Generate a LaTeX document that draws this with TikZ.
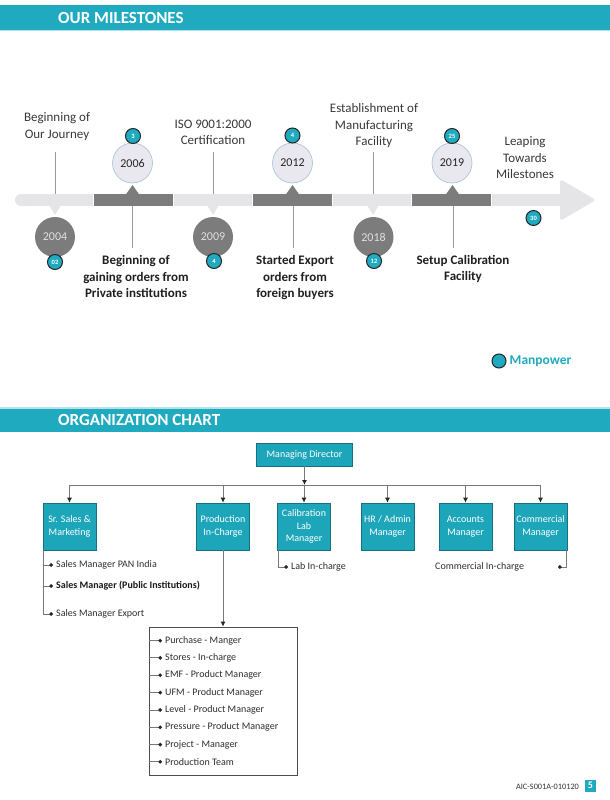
\documentclass[tikz,border=0pt]{standalone}
\usepackage{fontspec}
\setmainfont{Carlito}
\usetikzlibrary{arrows.meta, positioning}

\definecolor{aicteal}{RGB}{31,170,191}
\definecolor{boxteal}{RGB}{29,166,186}
\definecolor{boxrim}{RGB}{22,112,128}
\definecolor{darkgrey}{RGB}{124,124,124}
\definecolor{bandlight}{RGB}{229,229,231}
\definecolor{circlight}{RGB}{232,232,238}
\definecolor{circrim}{RGB}{165,192,215}
\definecolor{linegrey}{RGB}{120,120,120}

\tikzset{
  head/.style={anchor=west, inner sep=0pt, text=white, font=\fontsize{17}{17}\selectfont\bfseries},
  yeardark/.style={circle, fill=darkgrey, minimum size=40pt, inner sep=0pt, text=white!88!black, font=\fontsize{12}{12}\selectfont},
  yearlight/.style={circle, fill=circlight, draw=circrim, line width=0.6pt, minimum size=40pt, inner sep=0pt, text=black!85, font=\fontsize{12}{12}\selectfont},
  mp/.style={circle, fill=aicteal, draw=black!85, line width=1pt, minimum size=15pt, inner sep=0pt, text=white, font=\fontsize{6.5}{6.5}\selectfont\bfseries},
  ms/.style={align=center, inner sep=0pt, text=black!78, font=\fontsize{13}{16.5}\selectfont},
  msbold/.style={align=center, inner sep=0pt, text=black!88, font=\fontsize{13}{16.5}\selectfont\bfseries},
  tick/.style={draw=black!40, line width=0.8pt},
  obox/.style={rectangle, draw=boxrim, fill=boxteal, line width=0.6pt, minimum width=53pt, minimum height=47pt, inner sep=1pt, align=center, text=white, font=\fontsize{10}{12.3}\selectfont},
  item/.style={anchor=west, inner sep=0pt, text=black!82, font=\fontsize{10}{10}\selectfont},
  link/.style={draw=linegrey, line width=0.9pt},
  tip/.style={-{Latex[length=5pt, width=5pt, black!85]}},
  dot/.style={-{Circle[length=3.6pt, black!85]}},
}

\begin{document}
\begin{tikzpicture}[x=1pt, y=-1pt]
\useasboundingbox (0,0) rectangle (610,800);

% milestones header
\fill[aicteal] (0,5) rectangle (610,30);
\fill[aicteal!35] (0,30) rectangle (610,31.5);
\node[head] (head1) at (58,17.5) {OUR MILESTONES};

% the band
\fill[bandlight, rounded corners=6pt] (15,194) rectangle (40,206);
\fill[bandlight] (30,194) rectangle (92.5,206);
\fill[darkgrey] (94,194) rectangle (172.5,206);
\fill[bandlight] (174,194) rectangle (251.5,206);
\fill[darkgrey] (253,194) rectangle (331.5,206);
\fill[bandlight] (333,194) rectangle (410.5,206);
\fill[darkgrey] (412,194) rectangle (490.5,206);
\fill[bandlight] (492,194) rectangle (562,206);
\fill[bandlight, rounded corners=3pt] (560,179) -- (596,200) -- (560,221) -- cycle;

% notches
\fill[bandlight] (49,205) -- (61,205) -- (55,215) -- cycle;
\fill[bandlight] (207,205) -- (219,205) -- (213,215) -- cycle;
\fill[bandlight] (367,205) -- (379,205) -- (373,215) -- cycle;
\fill[darkgrey] (125.5,195) -- (139.5,195) -- (132.5,185) -- cycle;
\fill[darkgrey] (285.5,195) -- (299.5,195) -- (292.5,185) -- cycle;
\fill[darkgrey] (445.5,195) -- (459.5,195) -- (452.5,185) -- cycle;

% years
\node[yeardark] (y04) at (55,237) {2004};
\node[yearlight] (y06) at (132.5,163) {2006};
\node[yeardark] (y09) at (213,237) {2009};
\node[yearlight] (y12) at (292.5,163) {2012};
\node[yeardark] (y18) at (373.5,237) {2018};
\node[yearlight] (y19) at (452,163) {2019};

% manpower
\node[mp] (m04) at (55,262) {02};
\node[mp] (m06) at (133,136) {3};
\node[mp] (m09) at (214,261) {4};
\node[mp] (m12) at (292.5,135.5) {4};
\node[mp] (m18) at (374,261) {12};
\node[mp] (m19) at (452,136) {25};
\node[mp] (m30) at (533.5,218) {30};

% labels
\node[ms] (l04) at (57,126.5) {Beginning of\\Our Journey};
\node[ms] (l09) at (213,132.5) {ISO 9001:2000\\Certification};
\node[ms] (l18) at (374,126) {Establishment of\\Manufacturing\\Facility};
\node[ms] (l30) at (525,158) {Leaping\\Towards\\Milestones};
\node[msbold] (l06) at (136,276.5) {Beginning of\\gaining orders from\\Private institutions};
\node[msbold] (l12) at (295,278) {Started Export\\orders from\\foreign buyers};
\node[msbold] (l19) at (463,269) {Setup Calibration\\Facility};

\coordinate (a04) at (55,152);   \coordinate (b04) at (55,194);
\coordinate (a09) at (213,152);  \coordinate (b09) at (213,194);
\coordinate (a18) at (373,152);  \coordinate (b18) at (373,194);
\coordinate (a06) at (132.5,206); \coordinate (b06) at (132.5,248);
\coordinate (a12) at (293,206);  \coordinate (b12) at (293,248);
\coordinate (a19) at (453,206);  \coordinate (b19) at (453,248);
\draw[tick] (a04) -- (b04)
    (a09) -- (b09)
    (a18) -- (b18)
    (a06) -- (b06)
    (a12) -- (b12)
    (a19) -- (b19);

% key
\node[mp, minimum size=14pt] (mpkey) at (499,361) {};
\node[right=3pt of mpkey, inner sep=0pt, text=aicteal, font=\fontsize{13.5}{13.5}\selectfont\bfseries] (mpword) {Manpower};

% organization header
\fill[aicteal!35] (0,407) rectangle (610,408.5);
\fill[aicteal] (0,408.5) rectangle (610,432);
\node[head] (head2) at (58,420) {ORGANIZATION CHART};

% chart
\node[obox, minimum width=96pt, minimum height=23pt] (md) at (304.5,454.5) {Managing Director};
\node[obox] (sales) at (69.5,526.5) {Sr. Sales \&\\Marketing};
\node[obox] (prod) at (223,526.5) {Production\\In-Charge};
\node[obox] (cal) at (304,526.5) {Calibration\\Lab\\Manager};
\node[obox] (hr) at (387.5,526.5) {HR / Admin\\Manager};
\node[obox] (acc) at (465.5,526.5) {Accounts\\Manager};
\node[obox] (comm) at (540.5,526.5) {Commercial\\Manager};

\coordinate (bus) at (0,485);
\draw[link, tip] (md.south) -- (md.south |- bus);
\draw[link] (sales.north |- bus) -- (comm.north |- bus);
\draw[link, tip] (sales.north |- bus) -- (sales.north);
\draw[link, tip] (prod.north |- bus) -- (prod.north);
\draw[link, tip] (cal.north |- bus) -- (cal.north);
\draw[link, tip] (hr.north |- bus) -- (hr.north);
\draw[link, tip] (acc.north |- bus) -- (acc.north);
\draw[link, tip] (comm.north |- bus) -- (comm.north);

% sales
\node[item] (s1) at (56,565) {Sales Manager PAN India};
\node[item, font=\fontsize{10}{10}\selectfont\bfseries, text=black!90] (s2) at (56,586) {Sales Manager (Public Institutions)};
\node[item] (s3) at (56,614) {Sales Manager Export};
\draw[link, dot] ([xshift=1pt]sales.south west) |- ([xshift=-3pt]s1.west);
\draw[link, dot] ([xshift=1pt]sales.south west) |- ([xshift=-3pt]s2.west);
\draw[link, dot] ([xshift=1pt]sales.south west) |- ([xshift=-3pt]s3.west);

% calibration
\node[item] (c1) at (291,567) {Lab In-charge};
\draw[link, dot] ([xshift=1pt]cal.south west) |- ([xshift=-3pt]c1.west);

% commercial
\node[item] (k1) at (435,567) {Commercial In-charge};
\coordinate (kdot) at (558,567);
\draw[link, dot] ([xshift=-0.5pt]comm.south east) |- (kdot);

% production
\node[draw=black!70, line width=0.7pt, fill=white, minimum width=148pt, minimum height=148pt, inner sep=0pt] (plist) at (223,701) {};
\draw[link, tip] (prod.south) -- (plist.north);
\node[item] (p1) at (165,640.7) {Purchase - Manger};
\node[item] (p2) at (165,657.9) {Stores - In-charge};
\node[item] (p3) at (165,675.2) {EMF - Product Manager};
\node[item] (p4) at (165,692.6) {UFM - Product Manager};
\node[item] (p5) at (165,710) {Level - Product Manager};
\node[item] (p6) at (165,727.3) {Pressure - Product Manager};
\node[item] (p7) at (165,744.6) {Project - Manager};
\node[item] (p8) at (165,761.8) {Production Team};
\draw[link, dot] (plist.west |- p1) -- ([xshift=-3pt]p1.west);
\draw[link, dot] (plist.west |- p2) -- ([xshift=-3pt]p2.west);
\draw[link, dot] (plist.west |- p3) -- ([xshift=-3pt]p3.west);
\draw[link, dot] (plist.west |- p4) -- ([xshift=-3pt]p4.west);
\draw[link, dot] (plist.west |- p5) -- ([xshift=-3pt]p5.west);
\draw[link, dot] (plist.west |- p6) -- ([xshift=-3pt]p6.west);
\draw[link, dot] (plist.west |- p7) -- ([xshift=-3pt]p7.west);
\draw[link, dot] (plist.west |- p8) -- ([xshift=-3pt]p8.west);

% footer
\node[inner sep=0pt, text=black!80, font=\fontsize{8.3}{8.3}\selectfont] (code) at (547.5,786.5) {AIC-S001A-010120};
\node[fill=aicteal, minimum width=11pt, minimum height=12pt, inner sep=0pt, text=white, font=\fontsize{10}{10}\selectfont\bfseries] (page) at (590.5,785.5) {5};
\end{tikzpicture}
\end{document}
